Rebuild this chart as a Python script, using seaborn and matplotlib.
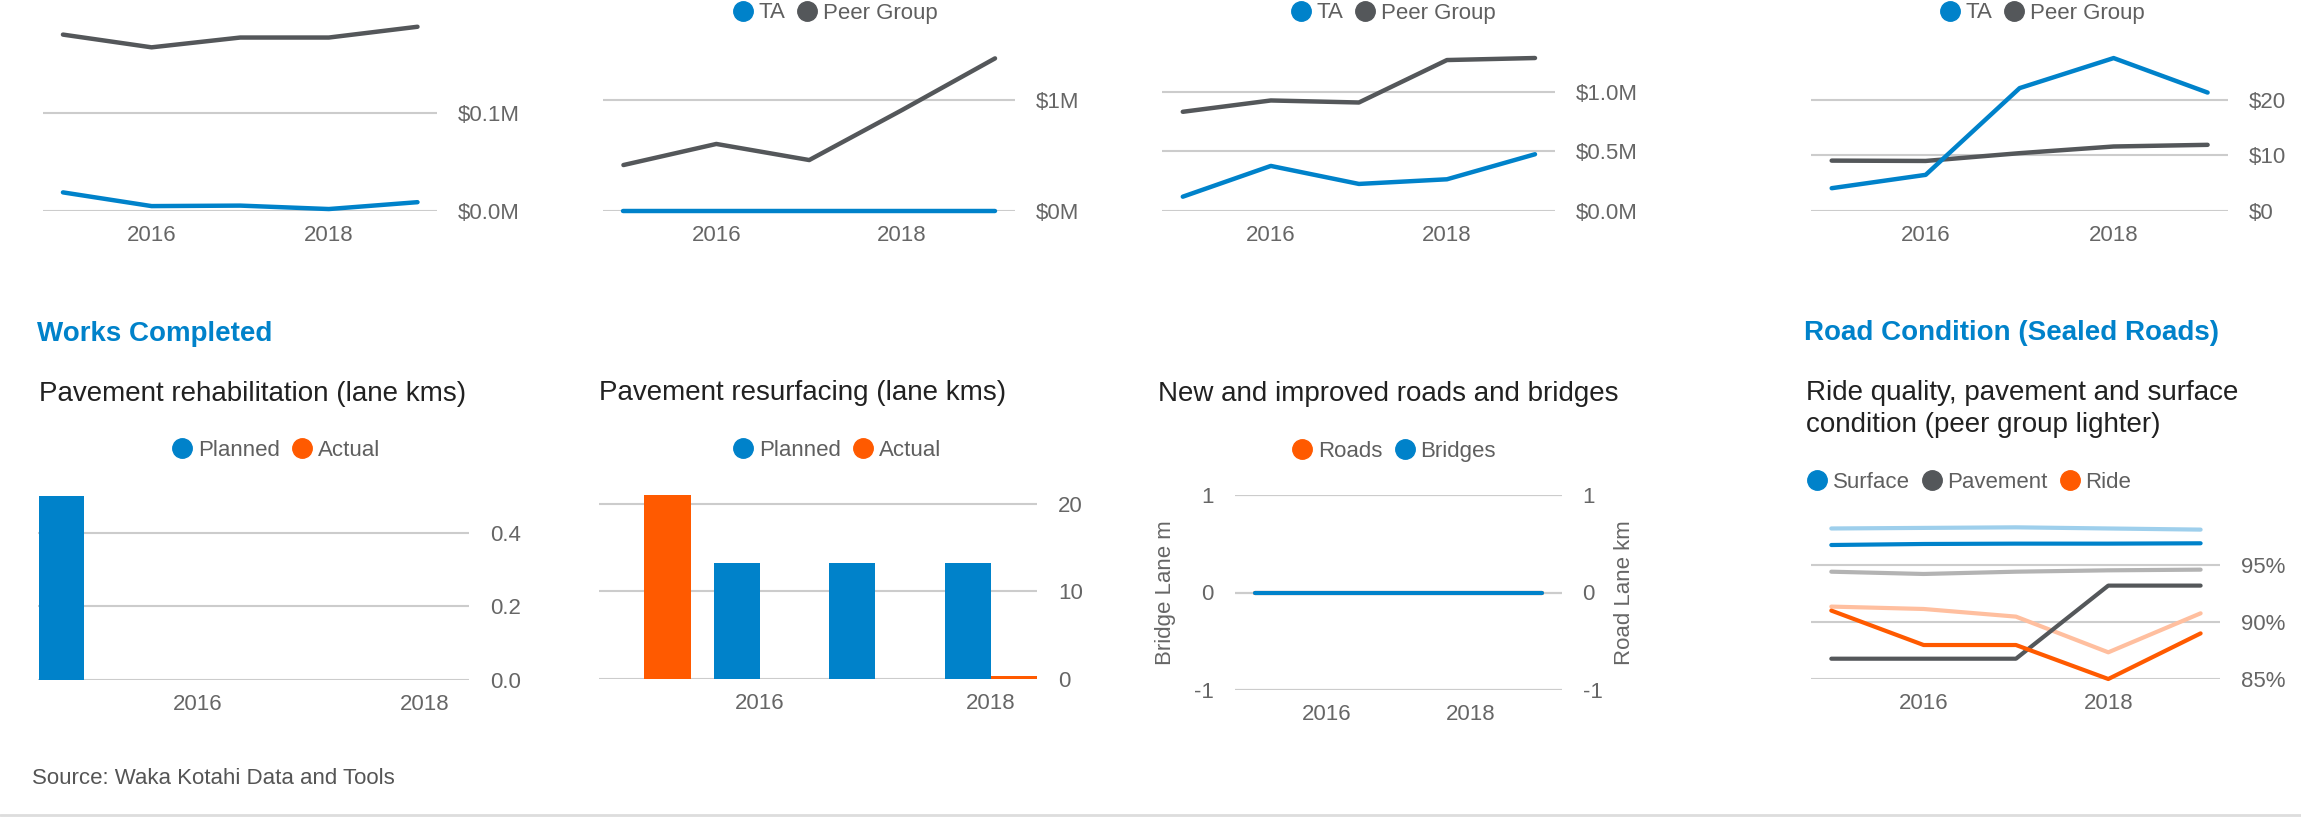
import seaborn as sns
import matplotlib.pyplot as plt
import pandas as pd
from matplotlib.lines import Line2D
from matplotlib.ticker import FuncFormatter

# Dữ liệu
years = [2015, 2016, 2017, 2018, 2019]
bar_years = [2015, 2016, 2017, 2018]

p1_ta = [0.019, 0.005, 0.0055, 0.002, 0.009]
p1_peer = [0.180, 0.167, 0.177, 0.177, 0.188]
p2_ta = [0.0, 0.0, 0.0, 0.0, 0.0]
p2_peer = [0.414, 0.604, 0.459, 0.91, 1.375]
p3_ta = [0.12, 0.378, 0.227, 0.266, 0.476]
p3_peer = [0.832, 0.927, 0.91, 1.266, 1.283]
p4_ta = [4.1, 6.5, 22.1, 27.5, 21.3]
p4_peer = [9.06, 9.0, 10.4, 11.6, 11.9]

rehab_planned = [0.5, 0, 0, 0]
rehab_actual = [0, 0, 0, 0]
resurf_planned = [0, 13.3, 13.3, 13.3]
resurf_actual = [21.0, 0, 0, 0.35]

roads = [0, 0, 0, 0, 0]
bridges = [0, 0, 0, 0, 0]

surface_ta = [96.75, 96.84, 96.87, 96.87, 96.9]
surface_peer = [98.2, 98.25, 98.3, 98.2, 98.1]
pavement_ta = [86.78, 86.78, 86.78, 93.19, 93.19]
pavement_peer = [94.41, 94.21, 94.41, 94.53, 94.59]
ride_ta = [91.0, 87.98, 87.98, 85.0, 89.0]
ride_peer = [91.35, 91.14, 90.47, 87.34, 90.76]

BLUE = '#0082CA'
ORANGE = '#FF5A00'
DARK = '#54575A'
TICK = '#666666'
FS = 16
TFS = 20

sns.set_theme(style='white')
plt.rcParams['font.family'] = ['Liberation Sans', 'DejaVu Sans']
plt.rcParams['axes.unicode_minus'] = False

W, H = 2301, 826
fig = plt.figure(figsize=(W / 100, H / 100), dpi=100)


def add_ax(x0, x1, y0, y1):
    return fig.add_axes([x0 / W, 1 - y1 / H, (x1 - x0) / W, (y1 - y0) / H])


def style(ax, fmt, yticks, right=True):
    for s in ax.spines.values():
        s.set_visible(False)
    ax.grid(False)
    ax.set_yticks(yticks)
    for t in yticks:
        ax.axhline(t, color='#cccccc', lw=1.5, zorder=0)
    ax.yaxis.set_major_formatter(FuncFormatter(fmt))
    if right:
        ax.yaxis.tick_right()
    ax.tick_params(axis='both', length=0, labelsize=FS, labelcolor=TICK)
    ax.tick_params(axis='y', pad=15)
    ax.tick_params(axis='x', pad=10)
    ax.set_xlabel('')
    ax.set_ylabel('')
    ax.set_axisbelow(True)


def legend(labels, colors, x, y, loc='center'):
    handles = [Line2D([], [], marker='o', ls='none', color=c, markersize=14) for c in colors]
    fig.legend(handles, labels, loc=loc, bbox_to_anchor=(x / W, 1 - y / H), ncol=len(labels),
               frameon=False, fontsize=FS, labelcolor='#5f5f5f', handlelength=0.9,
               handletextpad=0.25, columnspacing=0.55, borderpad=0, borderaxespad=0)


def line_panel(ax, ta, peer):
    df = pd.DataFrame({'year': years * 2, 'value': peer + ta,
                       'series': ['Peer Group'] * 5 + ['TA'] * 5})
    sns.lineplot(data=df, x='year', y='value', hue='series',
                 palette={'TA': BLUE, 'Peer Group': DARK}, linewidth=3.2, legend=False, ax=ax)
    for ln in ax.lines:
        ln.set_clip_on(False)
        ln.set_solid_capstyle('round')
    ax.set_xticks([2016, 2018])
    ax.set_xticklabels(['2016', '2018'])


# Hàng trên
ax1 = add_ax(43, 437, 0, 211)
line_panel(ax1, p1_ta, p1_peer)
ax1.set_xlim(2014.775, 2019.22)
ax1.set_ylim(0, 0.2153)
style(ax1, lambda v, p: f'${v:.1f}M', [0, 0.1])

ax2 = add_ax(603, 1015, 30, 211)
line_panel(ax2, p2_ta, p2_peer)
ax2.set_xlim(2014.78, 2019.215)
ax2.set_ylim(0, 1.6306)
style(ax2, lambda v, p: f'${v:.0f}M', [0, 1])
legend(['TA', 'Peer Group'], [BLUE, DARK], 835, 13)

ax3 = add_ax(1162, 1555, 30, 211)
line_panel(ax3, p3_ta, p3_peer)
ax3.set_xlim(2014.764, 2019.227)
ax3.set_ylim(0, 1.518)
style(ax3, lambda v, p: f'${v:.1f}M', [0, 0.5, 1.0])
legend(['TA', 'Peer Group'], [BLUE, DARK], 1393, 13)

ax4 = add_ax(1811, 2228, 30, 211)
line_panel(ax4, p4_ta, p4_peer)
ax4.set_xlim(2014.78, 2019.217)
ax4.set_ylim(0, 32.55)
style(ax4, lambda v, p: f'${v:.0f}', [0, 10, 20])
legend(['TA', 'Peer Group'], [BLUE, DARK], 2042, 13)


# Hàng dưới: cột
def bar_panel(ax, planned, actual):
    df = pd.DataFrame({'year': bar_years * 2, 'value': planned + actual,
                       'series': ['Planned'] * 4 + ['Actual'] * 4})
    sns.barplot(data=df, x='year', y='value', hue='series', hue_order=['Planned', 'Actual'],
                palette={'Planned': BLUE, 'Actual': ORANGE}, width=0.8, errorbar=None,
                saturation=1, linewidth=0, legend=False, ax=ax)
    ax.set_xticks([1, 3])
    ax.set_xticklabels(['2016', '2018'])


ax5 = add_ax(38, 469, 470, 680)
bar_panel(ax5, rehab_planned, rehab_actual)
ax5.set_xlim(-0.405, 3.39)
ax5.set_ylim(0, 0.5706)
style(ax5, lambda v, p: f'{v:.1f}', [0, 0.2, 0.4])
legend(['Planned', 'Actual'], [BLUE, ORANGE], 276, 450)

ax6 = add_ax(599, 1037, 480, 679)
bar_panel(ax6, resurf_planned, resurf_actual)
ax6.set_xlim(-0.393, 3.4)
ax6.set_ylim(0, 22.74)
style(ax6, lambda v, p: f'{v:.0f}', [0, 10, 20])
legend(['Planned', 'Actual'], [BLUE, ORANGE], 837, 450)

# Đường và cầu
ax7 = add_ax(1235, 1562, 495, 690)
ax7b = ax7.twinx()
sns.lineplot(x=years, y=roads, color=ORANGE, linewidth=3, ax=ax7b)
sns.lineplot(x=years, y=bridges, color=BLUE, linewidth=3, ax=ax7)
ax7.set_zorder(ax7b.get_zorder() + 1)
ax7.patch.set_visible(False)
for a in (ax7, ax7b):
    a.set_xlim(2014.72, 2019.28)
    a.set_ylim(-1, 1)
    for ln in a.lines:
        ln.set_clip_on(False)
        ln.set_solid_capstyle('round')
style(ax7, lambda v, p: f'{v:.0f}', [-1, 0, 1], right=False)
style(ax7b, lambda v, p: f'{v:.0f}', [-1, 0, 1])
ax7.set_xticks([2016, 2018])
ax7.set_xticklabels(['2016', '2018'])
ax7.tick_params(axis='y', pad=15.5)
ax7b.tick_params(axis='y', pad=14.8)
ax7.set_ylabel('Bridge Lane m', fontsize=FS, color=TICK)
ax7.yaxis.set_label_coords(-0.18, 0.5)
ax7b.set_ylabel('Road Lane km', fontsize=FS, color=TICK, rotation=90)
ax7b.yaxis.set_label_coords(1.158, 0.5)
legend(['Roads', 'Bridges'], [ORANGE, BLUE], 1394, 451)

# Tình trạng đường
ax8 = add_ax(1811, 2220, 510, 679)
cond = pd.DataFrame({
    'year': years * 6,
    'value': surface_peer + pavement_peer + ride_peer + surface_ta + pavement_ta + ride_ta,
    'series': sum([[s] * 5 for s in ['Surface peer', 'Pavement peer', 'Ride peer',
                                     'Surface', 'Pavement', 'Ride']], []),
})
cond_colors = {'Surface peer': '#9ECFEC', 'Pavement peer': '#B3B3B3', 'Ride peer': '#FFBF9F',
               'Surface': BLUE, 'Pavement': DARK, 'Ride': ORANGE}
sns.lineplot(data=cond, x='year', y='value', hue='series', palette=cond_colors,
             linewidth=3, legend=False, ax=ax8)
for ln in ax8.lines:
    ln.set_clip_on(False)
    ln.set_solid_capstyle('round')
ax8.set_xticks([2016, 2018])
ax8.set_xticklabels(['2016', '2018'])
ax8.set_xlim(2014.78, 2019.21)
ax8.set_ylim(85, 99.82)
style(ax8, lambda v, p: f'{v:.0f}%', [85, 90, 95])
legend(['Surface', 'Pavement', 'Ride'], [BLUE, DARK, ORANGE], 1807, 482, loc='center left')

# Tiêu đề
fig.text(37 / W, 1 - 334 / H, 'Works Completed', fontsize=TFS, weight='bold', color=BLUE, va='center')
fig.text(1804 / W, 1 - 333 / H, 'Road Condition (Sealed Roads)', fontsize=TFS, weight='bold',
         color=BLUE, va='center')
fig.text(39 / W, 1 - 394 / H, 'Pavement rehabilitation (lane kms)', fontsize=TFS, color='#212121', va='center')
fig.text(599 / W, 1 - 393 / H, 'Pavement resurfacing (lane kms)', fontsize=TFS, color='#212121', va='center')
fig.text(1158 / W, 1 - 394 / H, 'New and improved roads and bridges', fontsize=TFS, color='#212121', va='center')
fig.text(1806 / W, 1 - 393 / H, 'Ride quality, pavement and surface', fontsize=TFS, color='#212121', va='center')
fig.text(1806 / W, 1 - 425 / H, 'condition (peer group lighter)', fontsize=TFS, color='#212121', va='center')
fig.text(32 / W, 1 - 779 / H, 'Source: Waka Kotahi Data and Tools', fontsize=FS, color='#555555', va='center')
fig.add_artist(Line2D([0, 1], [1 - 815 / H] * 2, color='#dddddd', lw=2))

fig.savefig('out.png', dpi=100)
